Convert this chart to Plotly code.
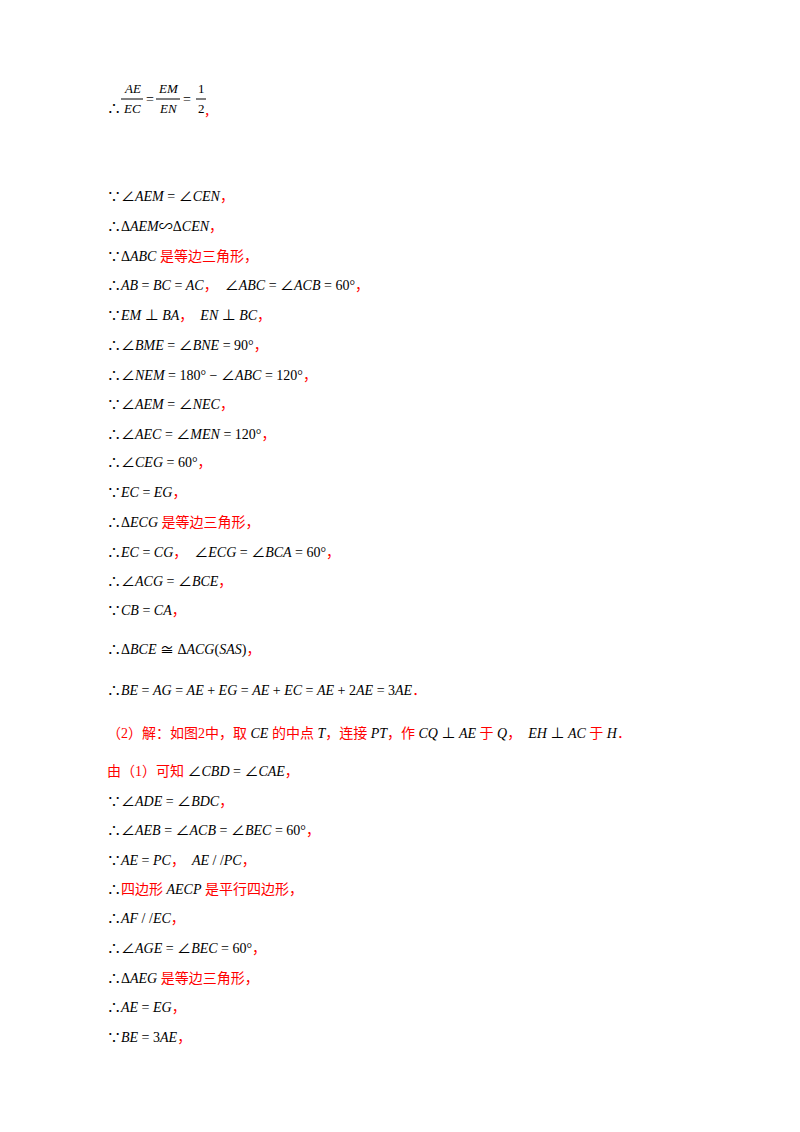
import re
import plotly.graph_objects as go

W, H = 800, 1132
LEFT = 97
OFF = -8

lines = [
    "∵∠AEM = ∠CEN，",
    "∴ΔAEM∽ΔCEN，",
    "∵ΔABC 是等边三角形，",
    "∴AB = BC = AC，  ∠ABC = ∠ACB = 60°，",
    "∵EM ⊥ BA，  EN ⊥ BC，",
    "∴∠BME = ∠BNE = 90°，",
    "∴∠NEM = 180° − ∠ABC = 120°，",
    "∵∠AEM = ∠NEC，",
    "∴∠AEC = ∠MEN = 120°，",
    "∴∠CEG = 60°，",
    "∵EC = EG，",
    "∴ΔECG 是等边三角形，",
    "∴EC = CG，  ∠ECG = ∠BCA = 60°，",
    "∴∠ACG = ∠BCE，",
    "∵CB = CA，",
    "∴ΔBCE ≅ ΔACG(SAS)，",
    "∴BE = AG = AE + EG = AE + EC = AE + 2AE = 3AE．",
    "（2）解：如图2中，取 CE 的中点 T，连接 PT，作 CQ ⊥ AE 于 Q，  EH ⊥ AC 于 H．",
    "由（1）可知 ∠CBD = ∠CAE，",
    "∵∠ADE = ∠BDC，",
    "∴∠AEB = ∠ACB = ∠BEC = 60°，",
    "∵AE = PC，  AE / /PC，",
    "∴四边形 AECP 是平行四边形，",
    "∴AF / /EC，",
    "∴∠AGE = ∠BEC = 60°，",
    "∴ΔAEG 是等边三角形，",
    "∴AE = EG，",
    "∵BE = 3AE，",
]
line_y = [197, 226, 256, 286, 316, 345, 375, 404, 434, 463, 493, 522, 552, 581,
          610, 650, 690, 733, 771, 801, 830, 860, 889, 919, 948, 978, 1007, 1037]

RED = "#ff0000"
SERIF = "Liberation Serif, Noto Sans CJK SC"


def markup(s):
    s = re.sub(r"([A-Z]+)", r"<i>\1</i>", s)
    s = re.sub(r"([\u4e00-\u9fff（）：，．0-9]*[\u4e00-\u9fff（）：，．]+[\u4e00-\u9fff（）：，．0-9]*)",
               lambda m: f"<span style='color:{RED}'>{m.group(1)}</span>", s)
    return s


def py(y):
    return 1 - (y + OFF) / H


ann = []
for t, y in zip(lines, line_y):
    ann.append(dict(x=LEFT / W, y=py(y), xref="paper", yref="paper",
                    xanchor="left", yanchor="middle", showarrow=False,
                    text=markup(t), font=dict(family=SERIF, size=14, color="black")))


def txt(x, y, s, size=13, color="black", anchor="center"):
    ann.append(dict(x=x / W, y=py(y), xref="paper", yref="paper", xanchor=anchor, yanchor="middle",
                    showarrow=False, text=s, font=dict(family=SERIF, size=size, color=color)))


fy = 99
txt(LEFT, fy + 10, "∴", 14, anchor="left")
for num, den, x in [("AE", "EC", 124), ("EM", "EN", 160)]:
    txt(x, fy - 11, f"<i>{num}</i>")
    txt(x, fy + 10, f"<i>{den}</i>")
txt(142, fy, "=", 14)
txt(179, fy, "=", 14)
txt(193, fy - 11, "1")
txt(193, fy + 10, "2")
txt(203, fy + 12, "，", 13, RED)

shapes = []
for x0, x1 in ((113, 135), (148, 172), (188, 198)):
    shapes.append(dict(type="line", xref="paper", yref="paper", x0=x0 / W, x1=x1 / W,
                       y0=py(fy), y1=py(fy), line=dict(color="black", width=1)))

fig = go.Figure()
fig.update_layout(width=W, height=H, margin=dict(l=0, r=0, t=0, b=0),
                  paper_bgcolor="white", plot_bgcolor="white",
                  xaxis=dict(visible=False), yaxis=dict(visible=False),
                  annotations=ann, shapes=shapes, showlegend=False)
fig.write_html("out.html")
